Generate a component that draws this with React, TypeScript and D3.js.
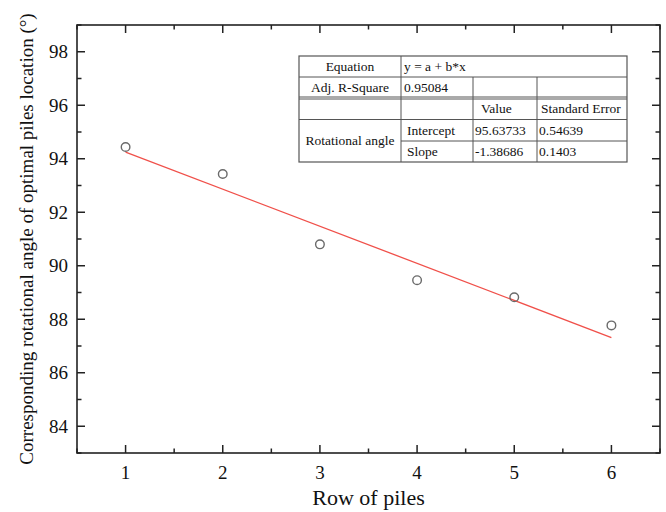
import React from "react";
import * as d3 from "d3";

// Rotational angle of the optimal pile location for each pile row
const rows = [1, 2, 3, 4, 5, 6];
const angles = [94.44, 93.43, 90.8, 89.46, 88.82, 87.77];

// Linear fit y = a + b*x
const intercept = 95.63733;
const slope = -1.38686;
const interceptErr = 0.54639;
const slopeErr = 0.1403;
const adjR2 = 0.95084;

const xTicks = [1, 2, 3, 4, 5, 6];
const yTicks = [84, 86, 88, 90, 92, 94, 96, 98];

const W = 666;
const H = 512;
const M = { left: 77, right: 660, top: 25, bottom: 453 };
const FONT = "'Liberation Serif', 'Times New Roman', serif";

export default function App() {
  const x = d3.scaleLinear().domain([0.5, 6.5]).range([M.left, M.right]);
  const y = d3.scaleLinear().domain([83, 99]).range([M.bottom, M.top]);

  const xMinor = d3.range(0.5, 6.51, 0.5).filter((v) => !Number.isInteger(v));
  const yMinor = d3.range(83, 99.01, 1).filter((v) => v % 2 === 1);

  const fitLine = d3
    .line<number>()
    .x((d) => x(d))
    .y((d) => y(intercept + slope * d));

  const axisColor = "#222";
  const major = 8;
  const minor = 4.5;

  // table geometry
  const cx = [299, 401, 473, 537, 627];
  const ry = [56, 77, 98, 119.5, 141, 162];
  const tFont = 13.5;
  const mid = (i: number) => (ry[i] + ry[i + 1]) / 2 + 4.5;
  const tc = "#111";
  const lc = "#555";

  return (
    <svg
      width={W}
      height={H}
      style={{ position: "absolute", left: 0, top: 0, background: "#fff" }}
      fontFamily={FONT}
    >
      <rect x={0} y={0} width={W} height={H} fill="#fff" />

      {/* fit line */}
      <path
        d={fitLine([rows[0], rows[rows.length - 1]]) || ""}
        stroke="#f0504a"
        strokeWidth={1.3}
        fill="none"
      />

      {/* data points */}
      {rows.map((r, i) => (
        <circle
          key={r}
          cx={x(r)}
          cy={y(angles[i])}
          r={4.3}
          fill="none"
          stroke="#6a6a6a"
          strokeWidth={1.4}
        />
      ))}

      {/* frame */}
      <rect
        x={M.left}
        y={M.top}
        width={M.right - M.left}
        height={M.bottom - M.top}
        fill="none"
        stroke={axisColor}
        strokeWidth={1.6}
      />

      {/* x ticks bottom & top */}
      {xTicks.map((t) => (
        <g key={"xt" + t}>
          <line x1={x(t)} x2={x(t)} y1={M.bottom} y2={M.bottom - major} stroke={axisColor} strokeWidth={1.5} />
          <line x1={x(t)} x2={x(t)} y1={M.top} y2={M.top + major} stroke={axisColor} strokeWidth={1.5} />
          <text x={x(t)} y={M.bottom + 26} fontSize={19} textAnchor="middle" fill="#111">
            {t}
          </text>
        </g>
      ))}
      {xMinor.map((t) => (
        <g key={"xm" + t}>
          <line x1={x(t)} x2={x(t)} y1={M.bottom} y2={M.bottom - minor} stroke={axisColor} strokeWidth={1.5} />
          <line x1={x(t)} x2={x(t)} y1={M.top} y2={M.top + minor} stroke={axisColor} strokeWidth={1.5} />
        </g>
      ))}

      {/* y ticks left & right */}
      {yTicks.map((t) => (
        <g key={"yt" + t}>
          <line x1={M.left} x2={M.left + major} y1={y(t)} y2={y(t)} stroke={axisColor} strokeWidth={1.5} />
          <line x1={M.right} x2={M.right - major} y1={y(t)} y2={y(t)} stroke={axisColor} strokeWidth={1.5} />
          <text x={M.left - 9} y={y(t) + 6.5} fontSize={19} textAnchor="end" fill="#111">
            {t}
          </text>
        </g>
      ))}
      {yMinor.map((t) => (
        <g key={"ym" + t}>
          <line x1={M.left} x2={M.left + minor} y1={y(t)} y2={y(t)} stroke={axisColor} strokeWidth={1.5} />
          <line x1={M.right} x2={M.right - minor} y1={y(t)} y2={y(t)} stroke={axisColor} strokeWidth={1.5} />
        </g>
      ))}

      {/* axis titles */}
      <text x={(M.left + M.right) / 2} y={505} fontSize={22} textAnchor="middle" fill="#111">
        Row of piles
      </text>
      <text
        transform={`translate(33, ${(M.top + M.bottom) / 2}) rotate(-90)`}
        fontSize={19}
        textAnchor="middle"
        fill="#111"
      >
        Corresponding rotational angle of optimal piles location (°)
      </text>

      {/* fit summary table */}
      <g fontSize={tFont} fill={tc}>
        <rect x={cx[0]} y={ry[0]} width={cx[4] - cx[0]} height={ry[5] - ry[0]} fill="#fff" stroke={lc} strokeWidth={1.2} />
        {/* horizontal rules */}
        <line x1={cx[0]} x2={cx[4]} y1={ry[1]} y2={ry[1]} stroke={lc} strokeWidth={1} />
        <line x1={cx[0]} x2={cx[4]} y1={ry[2] - 1} y2={ry[2] - 1} stroke={lc} strokeWidth={1} />
        <line x1={cx[0]} x2={cx[4]} y1={ry[2] + 1} y2={ry[2] + 1} stroke={lc} strokeWidth={1} />
        <line x1={cx[0]} x2={cx[4]} y1={ry[3]} y2={ry[3]} stroke={lc} strokeWidth={1} />
        <line x1={cx[1]} x2={cx[4]} y1={ry[4]} y2={ry[4]} stroke={lc} strokeWidth={1} />
        {/* vertical rules */}
        <line x1={cx[1]} x2={cx[1]} y1={ry[0]} y2={ry[5]} stroke={lc} strokeWidth={1} />
        <line x1={cx[2]} x2={cx[2]} y1={ry[1]} y2={ry[5]} stroke={lc} strokeWidth={1} />
        <line x1={cx[3]} x2={cx[3]} y1={ry[1]} y2={ry[5]} stroke={lc} strokeWidth={1} />

        <text x={(cx[0] + cx[1]) / 2} y={mid(0)} textAnchor="middle">Equation</text>
        <text x={cx[1] + 3} y={mid(0)}>y = a + b*x</text>
        <text x={(cx[0] + cx[1]) / 2} y={mid(1)} textAnchor="middle">Adj. R-Square</text>
        <text x={cx[1] + 3} y={mid(1)}>{adjR2.toFixed(5)}</text>
        <text x={cx[2] + 8} y={mid(2)}>Value</text>
        <text x={cx[3] + 4} y={mid(2)}>Standard Error</text>
        <text x={(cx[0] + cx[1]) / 2} y={(ry[3] + ry[5]) / 2 + 4.5} textAnchor="middle">Rotational angle</text>
        <text x={cx[1] + 6} y={mid(3)}>Intercept</text>
        <text x={cx[2] + 2} y={mid(3)}>{intercept.toFixed(5)}</text>
        <text x={cx[3] + 2} y={mid(3)}>{interceptErr}</text>
        <text x={cx[1] + 6} y={mid(4)}>Slope</text>
        <text x={cx[2] + 2} y={mid(4)}>{slope.toFixed(5)}</text>
        <text x={cx[3] + 2} y={mid(4)}>{slopeErr}</text>
      </g>
    </svg>
  );
}
